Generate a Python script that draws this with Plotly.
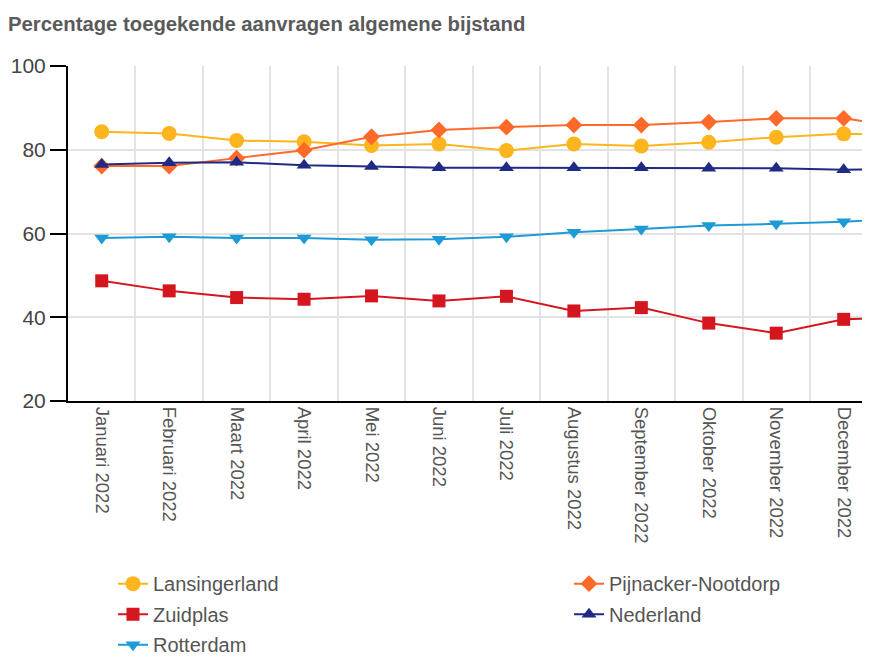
import plotly.graph_objects as go

months = ["Januari 2022", "Februari 2022", "Maart 2022", "April 2022", "Mei 2022",
          "Juni 2022", "Juli 2022", "Augustus 2022", "September 2022", "Oktober 2022",
          "November 2022", "December 2022", "Januari 2023"]

lansingerland = [84.3, 83.9, 82.2, 81.9, 81.0, 81.4, 79.8, 81.4, 80.9, 81.8, 83.0, 83.8, 83.7]
pijnacker = [76.1, 76.1, 78.0, 79.9, 83.1, 84.7, 85.4, 85.9, 85.9, 86.6, 87.5, 87.5, 85.1]
zuidplas = [48.7, 46.3, 44.7, 44.3, 45.1, 43.9, 45.0, 41.5, 42.3, 38.6, 36.2, 39.5, 40.0]
nederland = [76.5, 76.9, 77.0, 76.3, 76.0, 75.7, 75.7, 75.7, 75.7, 75.6, 75.6, 75.2, 75.6]
rotterdam = [58.9, 59.2, 58.9, 58.9, 58.5, 58.6, 59.2, 60.3, 61.1, 61.9, 62.3, 62.8, 63.6]

series = [
    ("Lansingerland", lansingerland, "#FDB51E", "circle", 15, "legend"),
    ("Pijnacker-Nootdorp", pijnacker, "#FF6A2A", "diamond", 13, "legend2"),
    ("Zuidplas", zuidplas, "#D4161F", "square", 13, "legend"),
    ("Nederland", nederland, "#1E2A84", "triangle-up", 13, "legend2"),
    ("Rotterdam", rotterdam, "#1E9AD6", "triangle-down", 13, "legend"),
]

fig = go.Figure()
for name, vals, color, sym, size, leg in series:
    fig.add_trace(go.Scatter(
        x=months, y=vals, name=name, mode="lines+markers",
        line=dict(color=color, width=2),
        marker=dict(color=color, symbol=sym, size=size),
        legend=leg, legendgroup=name,
    ))

legend_common = dict(orientation="v", yanchor="top", xanchor="left",
                     font=dict(size=20, color="#555555"),
                     tracegroupgap=1.5, bgcolor="rgba(0,0,0,0)")

fig.update_layout(
    width=870, height=658,
    margin=dict(l=60, r=8, t=58, b=265, autoexpand=False),
    paper_bgcolor="white", plot_bgcolor="white",
    font=dict(family="Liberation Sans, Arial, sans-serif", color="#555555"),
    title=dict(text="<b>Percentage toegekende aanvragen algemene bijstand</b>",
               x=0, xanchor="left", xref="container",
               y=1 - 16/658, yanchor="middle", yref="container",
               font=dict(size=20.3, color="#5a5a5a")),
    showlegend=True,
    legend=dict(x=(105 - 60) / 802, y=-0.487, **legend_common),
    legend2=dict(x=(561 - 60) / 802, y=-0.487, **legend_common),
)

fig.update_xaxes(
    type="category", range=[-0.5, 11.39], automargin=False,
    tickson="boundaries", ticks="", showgrid=True, gridcolor="#e3e3e3", gridwidth=1.5,
    tickangle=90, tickfont=dict(size=18.5, color="#555555"),
    showline=True, linecolor="black", linewidth=2,
)
fig.update_yaxes(
    range=[20, 100], dtick=20, tick0=20, automargin=False,
    showgrid=True, gridcolor="#e3e3e3", gridwidth=1.5,
    ticks="outside", ticklen=16, tickcolor="black", tickwidth=1.5,
    tickfont=dict(size=21, color="#444444"),
    showline=True, linecolor="black", linewidth=2, zeroline=False,
)

fig.write_html("out.html")
